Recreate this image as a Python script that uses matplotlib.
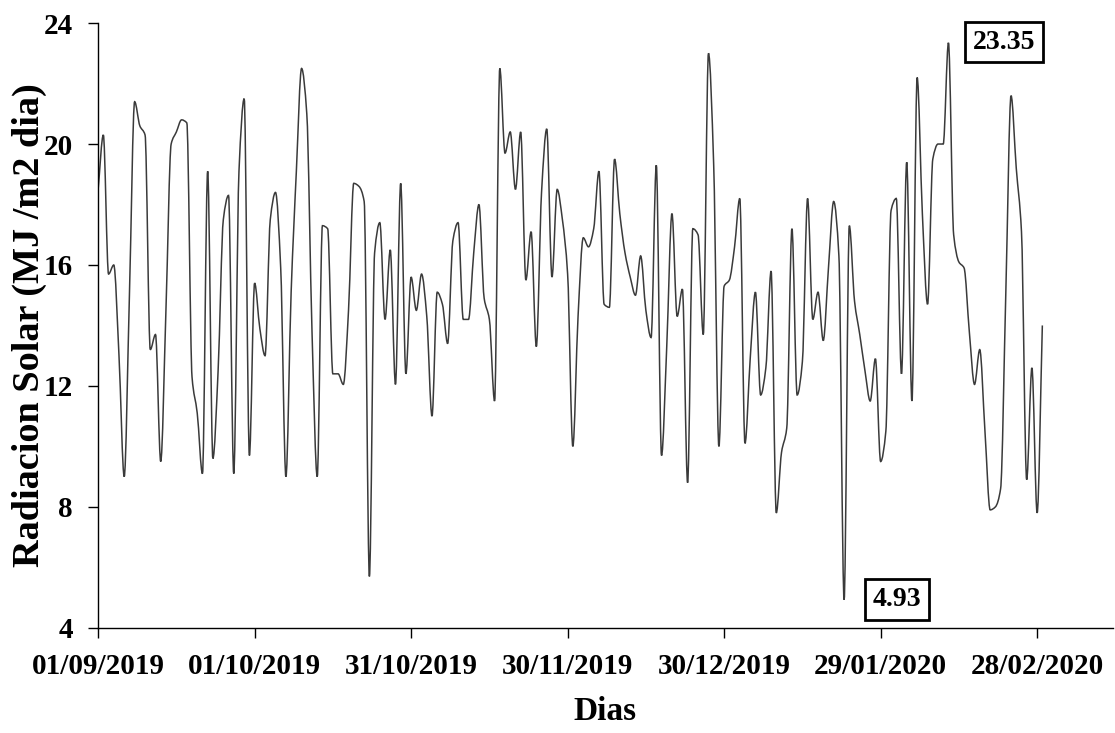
import numpy as np
import pandas as pd
import matplotlib
matplotlib.use("Agg")
import matplotlib.pyplot as plt
import matplotlib.dates as mdates
from matplotlib.path import Path
from matplotlib.patches import PathPatch

# daily solar radiation (MJ/m2 dia), 01/09/2019 - 29/02/2020
radiacion = [
    18.5, 20.3, 15.7, 16.0, 13.0, 9.0, 15.0, 21.4, 20.6, 20.3,
    13.2, 13.7, 9.5, 14.5, 20.0, 20.4, 20.8, 20.7, 12.3, 11.1,
    9.1, 19.1, 9.6, 12.5, 17.5, 18.3, 9.1, 19.1, 21.5, 9.7,
    15.4, 13.9, 13.0, 17.5, 18.4, 15.9, 9.0, 15.1, 19.1, 22.5,
    21.0, 13.8, 9.0, 17.3, 17.2, 12.4, 12.4, 12.05, 14.5, 18.7,
    18.6, 18.1, 5.7, 16.4, 17.4, 14.2, 16.5, 12.05, 18.7, 12.4,
    15.6, 14.5, 15.7, 14.3, 11.0, 15.1, 14.7, 13.4, 16.8, 17.4,
    14.2, 14.2, 16.4, 18.0, 14.9, 14.2, 11.5, 22.5, 19.7, 20.4,
    18.5, 20.4, 15.5, 17.1, 13.3, 18.4, 20.5, 15.6, 18.5, 17.5,
    15.7, 10.0, 14.3, 16.9, 16.6, 17.2, 19.1, 14.7, 14.6, 19.5,
    17.7, 16.4, 15.6, 15.0, 16.3, 14.5, 13.6, 19.3, 9.7, 13.3,
    17.7, 14.3, 15.2, 8.8, 17.2, 17.0, 13.7, 23.0, 19.3, 10.0,
    15.3, 15.5, 16.6, 18.2, 10.1, 12.9, 15.1, 11.7, 12.6, 15.8,
    7.8, 9.8, 10.6, 17.2, 11.7, 12.8, 18.2, 14.2, 15.1, 13.5,
    15.9, 18.1, 16.3, 4.93, 17.3, 14.8, 13.7, 12.5, 11.5, 12.9,
    9.5, 10.5, 17.8, 18.2, 12.4, 19.4, 11.5, 22.2, 17.7, 14.7,
    19.5, 20.0, 20.0, 23.35, 17.0, 16.1, 15.9, 13.8, 12.05, 13.2,
    10.5, 7.9, 8.0, 8.6, 15.1, 21.6, 19.2, 17.1, 8.9, 12.6,
    7.8, 14.0,
]
fechas = pd.date_range("2019-09-01", periods=len(radiacion), freq="D")
tick_fechas = pd.date_range("2019-09-01", periods=7, freq="30D")
y_ticks = [4, 8, 12, 16, 20, 24]

plt.rcParams["font.family"] = ["Liberation Serif", "DejaVu Serif"]
plt.rcParams["font.weight"] = "bold"

fig = plt.figure(figsize=(11.15, 7.33), dpi=100)
ax = fig.add_axes([0.088, 0.1435, 0.91, 0.825])

# smoothed line: bezier segments with monotone (no overshoot) tangents
x = mdates.date2num(fechas)
y = np.asarray(radiacion, dtype=float)
n = len(x)
d = np.diff(y) / np.diff(x)
m = np.zeros(n)
m[0], m[-1] = d[0], d[-1]
for i in range(1, n - 1):
    if d[i - 1] * d[i] > 0:
        m[i] = 2.0 / (1.0 / d[i - 1] + 1.0 / d[i])
verts = [(x[0], y[0])]
codes = [Path.MOVETO]
for i in range(n - 1):
    h = x[i + 1] - x[i]
    verts += [(x[i] + h / 3, y[i] + m[i] * h / 3),
              (x[i + 1] - h / 3, y[i + 1] - m[i + 1] * h / 3),
              (x[i + 1], y[i + 1])]
    codes += [Path.CURVE4] * 3
ax.add_patch(PathPatch(Path(verts, codes), facecolor="none",
                       edgecolor="#3a3a3a", lw=1.1))

ax.set_xlim(x[0], x[0] + 194.5)
ax.set_ylim(4, 24)
ax.set_yticks(y_ticks)
ax.set_xticks(mdates.date2num(tick_fechas))
ax.xaxis.set_major_formatter(mdates.DateFormatter("%d/%m/%Y"))

for s in ["top", "right"]:
    ax.spines[s].set_visible(False)
for s in ["left", "bottom"]:
    ax.spines[s].set_linewidth(1.0)
ax.tick_params(direction="out", length=7, width=1.0, labelsize=21)
ax.tick_params(axis="y", pad=11)
ax.tick_params(axis="x", pad=11)

ax.set_ylabel("Radiacion Solar (MJ /m2 dia)", fontsize=27.5, fontweight="bold", labelpad=-2)
ax.set_xlabel("Dias", fontsize=24, fontweight="bold", labelpad=12)

# max / min labels
i_max = int(np.argmax(y))
i_min = int(np.argmin(y))
box = dict(boxstyle="square,pad=0.28", facecolor="white", edgecolor="black", lw=2.0)
ax.text(x[i_max] + 10.6, 23.37, f"{y[i_max]:.2f}", fontsize=20, fontweight="bold",
        ha="center", va="center", bbox=box)
ax.text(x[i_min] + 10.1, 4.93, f"{y[i_min]:.2f}", fontsize=20, fontweight="bold",
        ha="center", va="center", bbox=box)

fig.savefig("out.png", dpi=100)
